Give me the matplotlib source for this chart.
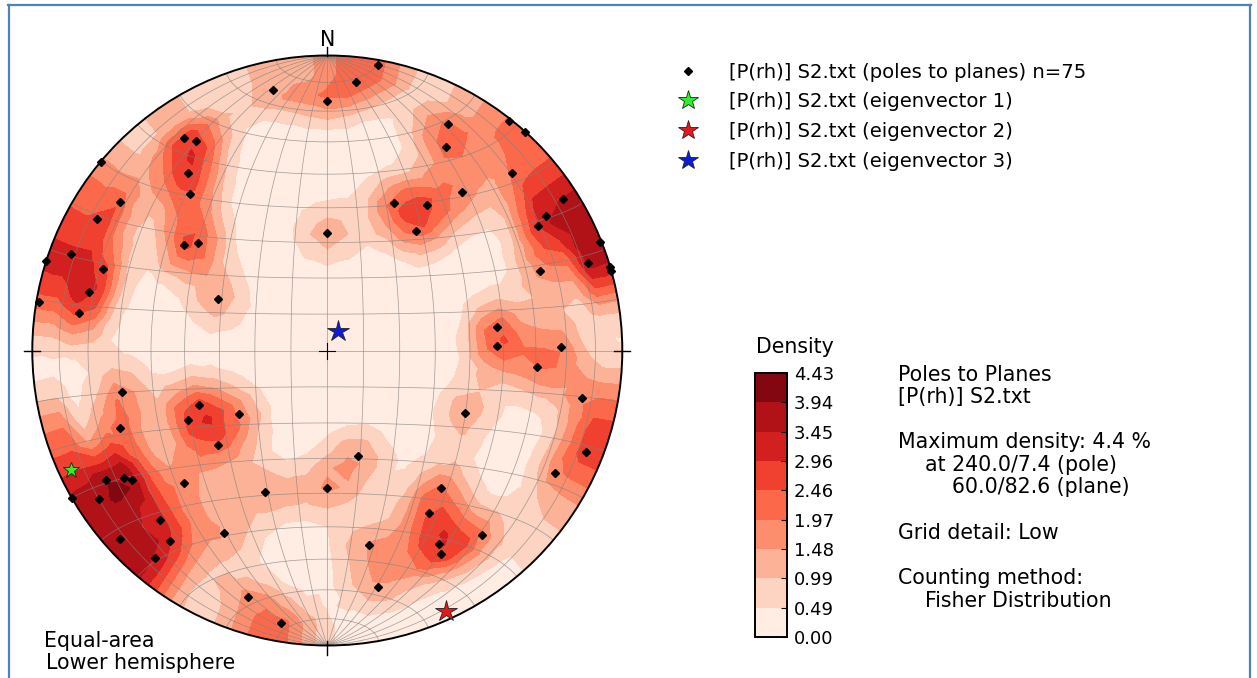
import numpy as np
import matplotlib
matplotlib.use("Agg")
import matplotlib.pyplot as plt
import matplotlib.tri as mtri
from matplotlib.patches import Circle
from matplotlib.lines import Line2D

# ---------------- data ----------------
pole_trend = [348.2, 0.0, 326.0, 327.9, 321.9, 318.8, 309.8, 305.7, 299.8, 290.6,
              287.6, 289.9, 283.8, 279.6, 278.6, 306.4, 309.8, 295.2, 0.0, 10.1,
              6.1, 28.0, 30.2, 38.3, 42.1, 46.1, 40.3, 24.3, 34.5, 36.6,
              57.3, 58.4, 59.4, 68.4, 71.5, 73.5, 74.3, 69.4, 82.2, 88.5,
              89.1, 258.6, 249.6, 246.9, 243.5, 234.3, 229.2, 239.7, 237.8, 236.4,
              236.9, 239.9, 227.3, 203.7, 180.0, 224.6, 219.6, 227.7, 219.6, 209.5,
              197.8, 189.7, 94.6, 100.5, 114.4, 111.4, 118.3, 163.9, 140.4, 147.9,
              140.0, 150.1, 150.9, 167.9, 167.8]
pole_plunge = [10.7, 16.5, 14.3, 17.3, 24.7, 30.1, 0.1, 14.6, 11.1, 7.9,
               0.1, 20.3, 18.0, 1.1, 15.9, 39.5, 42.3, 56.4, 57.4, 1.9,
               9.2, 14.1, 21.2, 1.0, 0.0, 14.2, 30.3, 44.3, 39.9, 48.2,
               5.5, 14.0, 18.0, 0.5, 7.7, 0.1, 0.0, 24.0, 41.4, 41.9,
               21.9, 29.8, 25.9, 51.0, 46.1, 59.7, 49.5, 14.1, 19.8, 21.6,
               8.4, 0.0, 34.3, 46.4, 51.5, 20.3, 17.3, 5.5, 9.5, 29.6,
               13.2, 7.1, 29.5, 13.2, 47.6, 6.6, 13.3, 59.5, 39.5, 35.4,
               19.4, 25.3, 22.0, 33.1, 19.2]

eig_trend = [245.0, 155.5, 28.8]
eig_plunge = [4.5, 3.4, 83.9]
eig_colors = ['#2ef02e', '#e3191b', '#0b1bd8']

density_levels = [0.00, 0.49, 0.99, 1.48, 1.97, 2.46, 2.96, 3.45, 3.94, 4.43]
max_density = 4.43
kappa = 85.0
grid_rings = 15          # "Grid detail: Low"

legend_labels = ['[P(rh)] S2.txt (poles to planes) n=75',
                 '[P(rh)] S2.txt (eigenvector 1)',
                 '[P(rh)] S2.txt (eigenvector 2)',
                 '[P(rh)] S2.txt (eigenvector 3)']

info_lines = [('Poles to Planes', 898, 375),
              ('[P(rh)] S2.txt', 898, 397),
              ('Maximum density: 4.4 %', 898, 442),
              ('at 240.0/7.4 (pole)', 925, 465),
              ('60.0/82.6 (plane)', 952, 487),
              ('Grid detail: Low', 898, 533),
              ('Counting method:', 898, 578),
              ('Fisher Distribution', 925, 601)]

# ---------------- helpers ----------------
W, H = 1257, 678
CX, CY, RAD = 327.3, 350.5, 295.0
FS = 14.8
FS_LEG = 14.1

plt.rcParams['font.family'] = ['DejaVu Sans']
plt.rcParams['font.size'] = FS


def to_vec(trend, plunge):
    t = np.radians(np.asarray(trend, float))
    p = np.radians(np.asarray(plunge, float))
    return np.stack([np.cos(p) * np.sin(t), np.cos(p) * np.cos(t), np.sin(p)], axis=-1)


def project(e, n, d):
    s = np.sqrt(1.0 + d)
    return e / s, n / s


fig = plt.figure(figsize=(W / 100, H / 100), dpi=100)
L = 1.1
ax = fig.add_axes([(CX - L * RAD) / W, (H - CY - L * RAD) / H, 2 * L * RAD / W, 2 * L * RAD / H])
ax.set_xlim(-L, L)
ax.set_ylim(-L, L)
ax.axis('off')

# ---------------- density: axial Fisher kernel on a coarse polar grid ----------------
P = to_vec(pole_trend, pole_plunge)
gx, gy, er = [0.0], [0.0], [0.0]
for k in range(1, grid_rings + 1):
    r = k / grid_rings
    az = np.radians(np.arange(6 * k) * 60.0 / k)
    gx.extend(r * np.sin(az))
    gy.extend(r * np.cos(az))
    # the outermost ring repeats the values of the last inner ring
    er.extend(np.full(az.size, min(k, grid_rings - 1) / grid_rings))
gx, gy, er = np.array(gx), np.array(gy), np.array(er)
rg = np.hypot(gx, gy)
sc = np.where(rg > 0, er / np.where(rg > 0, rg, 1), 0)
ex_, ey_ = gx * sc, gy * sc
dd = np.clip(1 - (ex_ ** 2 + ey_ ** 2), 0, 1)
G = np.stack([ex_ * np.sqrt(1 + dd), ey_ * np.sqrt(1 + dd), dd], axis=-1)
G /= np.linalg.norm(G, axis=-1, keepdims=True)
cosang = np.abs(np.clip(G @ P.T, -1, 1))
dens = 100.0 / len(P) * np.exp(kappa * (cosang - 1)).sum(axis=-1)
dens = np.clip(dens, 0, max_density * 0.9995)

tri = mtri.Triangulation(gx, gy)
clip = Circle((0, 0), 1.0, transform=ax.transData)
cs = ax.tricontourf(tri, dens, levels=density_levels, cmap='Reds', zorder=1)
cs.set_clip_path(clip)

# ---------------- equal-area grid ----------------
tt = np.linspace(0, np.pi, 181)
for ang in range(10, 180, 10):
    a = np.radians(ang)
    e, n, d = np.sin(tt) * np.cos(a), np.cos(tt), np.sin(tt) * np.sin(a)
    x, y = project(e, n, d)
    ax.plot(x, y, color='#808080', lw=0.5, alpha=0.75, zorder=2)
    e, n, d = np.sin(a) * np.cos(tt), np.cos(a) * np.ones_like(tt), np.sin(a) * np.sin(tt)
    x, y = project(e, n, d)
    ax.plot(x, y, color='#808080', lw=0.5, alpha=0.75, zorder=2)

ax.add_patch(Circle((0, 0), 1.0, fill=False, lw=1.4, color='black', zorder=5))

tk = 8 / RAD
ax.plot([0, 0], [1, 1 + tk * 1.1], color='black', lw=1.0, zorder=5)
ax.plot([0, 0], [-1 + tk * 0.6, -1 - tk * 1.2], color='black', lw=1.0, zorder=5)
ax.plot([-1 - tk, -1 + tk], [0, 0], color='black', lw=1.0, zorder=5)
ax.plot([1 - tk, 1 + tk], [0, 0], color='black', lw=1.0, zorder=5)
ax.plot([-tk, tk], [0, 0], color='black', lw=0.8, zorder=5)
ax.plot([0, 0], [-tk, tk], color='black', lw=0.8, zorder=5)
ax.text(0, (CY - 40) / RAD, 'N', ha='center', va='center', fontsize=FS, zorder=6)

# ---------------- poles and eigenvectors ----------------
px, py = project(*to_vec(pole_trend, pole_plunge).T)
ax.plot(px, py, ls='none', marker='D', ms=4.5, color='black', zorder=7)

ev = to_vec(eig_trend, eig_plunge)
star_ms = [12, 16, 16]
h_eig = []
for i in range(3):
    ex, ey = project(*ev[i])
    ax.plot([ex], [ey], ls='none', marker='*', ms=star_ms[i], mfc=eig_colors[i],
            mec='#222222', mew=0.6, zorder=8, clip_on=False)
    h_eig.append(Line2D([], [], ls='none', marker='*', ms=15, mfc=eig_colors[i],
                        mec='#222222', mew=0.6))

h_leg_pole = Line2D([], [], ls='none', marker='D', ms=4, color='black')
leg = fig.legend([h_leg_pole] + h_eig, legend_labels, loc='upper left',
                 bbox_to_anchor=(678 / W, 1 - 62.5 / H), frameon=False,
                 borderpad=0, borderaxespad=0, handlelength=1.0,
                 handletextpad=1.6, labelspacing=0.55, fontsize=FS_LEG)

# ---------------- colorbar ----------------
cax = fig.add_axes([755 / W, 1 - 637 / H, 32 / W, 264 / H])
cb = fig.colorbar(cs, cax=cax, ticks=density_levels)
cb.set_ticklabels([f'{v:.2f}' for v in density_levels])
cb.outline.set_linewidth(1.4)
cax.tick_params(direction='in', length=4, width=0.8, labelsize=13, pad=5)
fig.text(795 / W, 1 - 347 / H, 'Density', ha='center', va='center', fontsize=FS)

# ---------------- texts ----------------
for s, x0, y0 in info_lines:
    fig.text(x0 / W, 1 - y0 / H, s, ha='left', va='center', fontsize=FS)
fig.text(44 / W, 1 - 641 / H, 'Equal-area', ha='left', va='center', fontsize=FS)
fig.text(46 / W, 1 - 663 / H, 'Lower hemisphere', ha='left', va='center', fontsize=FS)

# ---------------- screenshot frame ----------------
fc = '#4f81bd'
fig.add_artist(Line2D([8 / W, 1251 / W], [1 - 5 / H, 1 - 5 / H], transform=fig.transFigure, color=fc, lw=1.6))
fig.add_artist(Line2D([9 / W, 9 / W], [0, 1 - 5 / H], transform=fig.transFigure, color=fc, lw=1.6))
fig.add_artist(Line2D([1250 / W, 1250 / W], [0, 1 - 5 / H], transform=fig.transFigure, color=fc, lw=1.6))

fig.savefig('out.png', dpi=100)
